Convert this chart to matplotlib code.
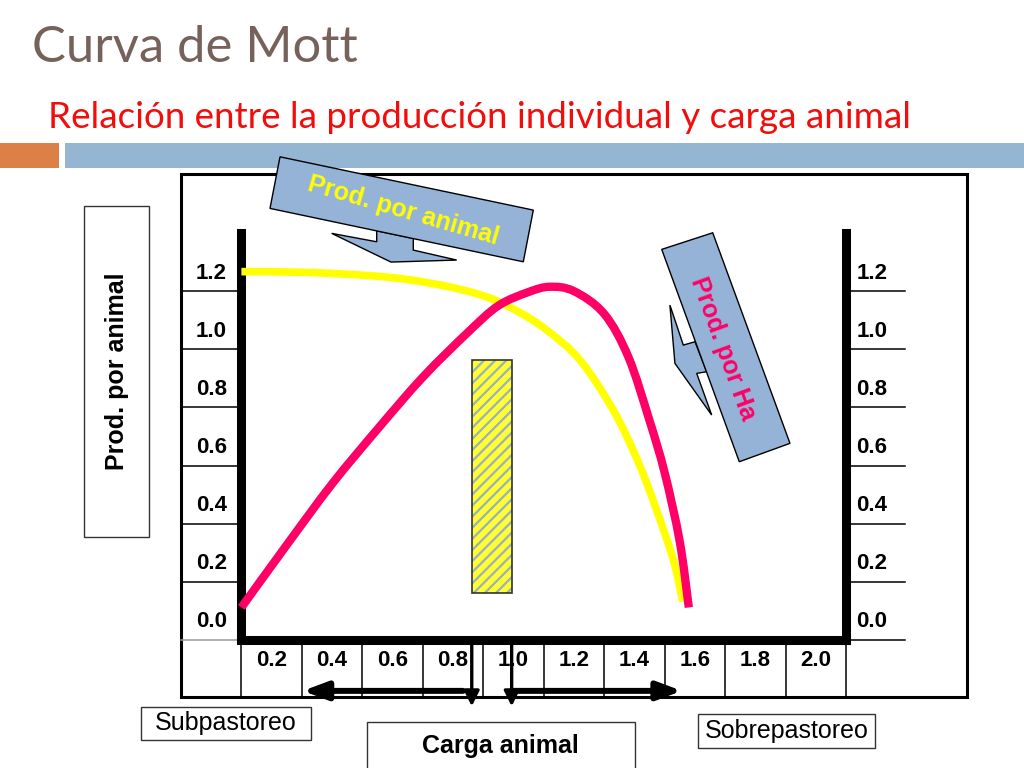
import matplotlib
matplotlib.use('Agg')
import matplotlib.pyplot as plt
from matplotlib.patches import Rectangle, Polygon, PathPatch
from matplotlib.path import Path

# ---------------- data ----------------
carga_animal_pa = [0.10, 0.30, 0.50, 0.65, 0.80, 0.92, 1.02, 1.11, 1.22, 1.33, 1.41, 1.47, 1.53, 1.56]
prod_por_animal = [1.205, 1.203, 1.193, 1.178, 1.150, 1.115, 1.065, 1.004, 0.901, 0.729, 0.557, 0.395, 0.21, 0.07]

carga_animal_ha = [0.10, 0.25, 0.40, 0.55, 0.70, 0.85, 0.95, 1.05, 1.12, 1.20, 1.30, 1.38, 1.45, 1.50, 1.55, 1.58]
prod_por_ha = [0.05, 0.265, 0.475, 0.663, 0.842, 0.997, 1.088, 1.135, 1.153, 1.138, 1.06, 0.912, 0.693, 0.514, 0.277, 0.05]

carga_optima = [0.862, 0.994]
prod_optima = [0.10, 0.90]

x_ticks = [0.2, 0.4, 0.6, 0.8, 1.0, 1.2, 1.4, 1.6, 1.8, 2.0]
x_labels = ['0.2', '0.4', '0.6', '0.8', '1.0', '1.2', '1.4', '1.6', '1.8', '2.0']
y_ticks = [0.0, 0.2, 0.4, 0.6, 0.8, 1.0, 1.2]
y_labels = ['0.0', '0.2', '0.4', '0.6', '0.8', '1.0', '1.2']

title = 'Curva de Mott'
subtitle = 'Relación entre la producción individual y carga animal'

# ---------------- figure ----------------
W, H = 1024, 768
plt.rcParams['hatch.linewidth'] = 1.6
fig = plt.figure(figsize=(W / 100, H / 100), dpi=100)
fig.patch.set_facecolor('white')


def fx(px):
    return px / W


def fy(py):
    return 1 - py / H


def smooth_path(xs, ys):
    """Smoothed line through the read points (Catmull-Rom drawn as Bezier)."""
    pts = list(zip(xs, ys))
    n = len(pts)
    verts = [pts[0]]
    codes = [Path.MOVETO]
    for i in range(n - 1):
        p0 = pts[i - 1] if i > 0 else pts[i]
        p1 = pts[i]
        p2 = pts[i + 1]
        p3 = pts[i + 2] if i + 2 < n else pts[i + 1]
        c1 = (p1[0] + (p2[0] - p0[0]) / 6, p1[1] + (p2[1] - p0[1]) / 6)
        c2 = (p2[0] - (p3[0] - p1[0]) / 6, p2[1] - (p3[1] - p1[1]) / 6)
        verts += [c1, c2, p2]
        codes += [Path.CURVE4] * 3
    return Path(verts, codes)


# header
fig.text(fx(32), fy(62), title, fontsize=36.5, color='#76625A', family='Lato',
         ha='left', va='baseline')
fig.text(fx(48), fy(128), subtitle, fontsize=26.5, color='#F20D0D', family='Lato',
         ha='left', va='baseline')
fig.patches.append(Rectangle((fx(0), fy(168)), fx(59), 25 / H, transform=fig.transFigure,
                             facecolor='#DD8047', edgecolor='none', zorder=-1))
fig.patches.append(Rectangle((fx(65), fy(168)), fx(1024 - 65), 25 / H, transform=fig.transFigure,
                             facecolor='#94B6D2', edgecolor='none', zorder=-1))

ax = fig.add_axes([fx(241.4), fy(640), fx(846) - fx(241.4), (640 - 233) / H])
ax.set_xlim(0.1, 2.1)
ax.set_ylim(-0.062, 1.338)
ax.set_xticks([])
ax.set_yticks([])
ax.patch.set_alpha(0)
ax.spines['top'].set_visible(False)
for s in ['left', 'right', 'bottom']:
    ax.spines[s].set_linewidth(6.5)
    ax.spines[s].set_color('black')

bold = dict(family='Liberation Sans', fontweight='bold')
reg = dict(family='Liberation Sans')

# outer box
ax.add_patch(Rectangle((-0.1, -0.258), 2.6, 1.799, fill=False, edgecolor='black',
                       lw=2.2, clip_on=False, zorder=1))

# table lines
for v in y_ticks:
    b = v - 0.062
    c = '#999999' if v == 0.0 else 'black'
    ax.plot([-0.1, 0.1], [b, b], color=c, lw=1.1, clip_on=False, zorder=1)
    ax.plot([2.1, 2.296], [b, b], color='black', lw=1.1, clip_on=False, zorder=1)
for k in range(11):
    xv = 0.1 + 0.2 * k
    ax.plot([xv, xv], [-0.062, -0.258], color='black', lw=1.1, clip_on=False, zorder=1)

# tick labels
for v, lab in zip(y_ticks, y_labels):
    ax.text(0.0, v, lab, ha='center', va='center', fontsize=16, clip_on=False, **bold)
    ax.text(2.135, v, lab, ha='left', va='center', fontsize=16, clip_on=False, **bold)
for v, lab in zip(x_ticks, x_labels):
    ax.text(v, -0.134, lab, ha='center', va='center', fontsize=16, clip_on=False, **bold)

# optimal range bar
xc = (carga_optima[0] + carga_optima[1]) / 2
wd = carga_optima[1] - carga_optima[0]
ax.bar([xc], [prod_optima[1] - prod_optima[0]], width=wd, bottom=prod_optima[0],
       color='#FFFF33', edgecolor='#9AAFC0', hatch='///', lw=0, zorder=2)
ax.bar([xc], [prod_optima[1] - prod_optima[0]], width=wd, bottom=prod_optima[0],
       fill=False, edgecolor='#333333', lw=1.2, zorder=2)

# curves (smoothed lines through the read points)
ax.add_patch(PathPatch(smooth_path(carga_animal_pa, prod_por_animal), fill=False,
                       edgecolor='#FFFF00', lw=5.5, capstyle='butt', joinstyle='round',
                       clip_on=False, zorder=4))
ax.add_patch(PathPatch(smooth_path(carga_animal_ha, prod_por_ha), fill=False,
                       edgecolor='#FF0066', lw=6.0, capstyle='butt', joinstyle='round',
                       clip_on=False, zorder=5))

# arrows under the axis
for xv in carga_optima:
    ax.annotate('', xy=(xv, -0.29), xytext=(xv, -0.062), annotation_clip=False,
                arrowprops=dict(arrowstyle='-|>,head_length=0.7,head_width=0.35', lw=2.4,
                                color='black', mutation_scale=13, shrinkA=0, shrinkB=0))
ax.annotate('', xy=(0.303, -0.237), xytext=(0.833, -0.237), annotation_clip=False,
            arrowprops=dict(arrowstyle='-|>,head_length=0.8,head_width=0.3', lw=4.3,
                            color='black', mutation_scale=18, shrinkA=0, shrinkB=0))
ax.annotate('', xy=(1.557, -0.237), xytext=(0.994, -0.237), annotation_clip=False,
            arrowprops=dict(arrowstyle='-|>,head_length=0.8,head_width=0.3', lw=4.3,
                            color='black', mutation_scale=18, shrinkA=0, shrinkB=0))

# label boxes
ax.add_patch(Rectangle((-0.421, 0.292), 0.215, 1.138, facecolor='white', edgecolor='#333333',
                       lw=1.0, clip_on=False))
ax.text(-0.313, 0.863, 'Prod. por animal', rotation=90, ha='center', va='center',
        fontsize=18, clip_on=False, **bold)

ax.add_patch(Rectangle((-0.232, -0.406), 0.562, 0.114, facecolor='white', edgecolor='#333333',
                       lw=1.0, clip_on=False))
ax.text(0.049, -0.349, 'Subpastoreo', ha='center', va='center', fontsize=18,
        clip_on=False, **reg)

ax.add_patch(Rectangle((0.5155, -0.53), 0.888, 0.186, facecolor='white', edgecolor='#333333',
                       lw=1.0, clip_on=False))
ax.text(0.956, -0.428, 'Carga animal', ha='center', va='center', fontsize=18,
        clip_on=False, **bold)

ax.add_patch(Rectangle((1.610, -0.433), 0.586, 0.117, facecolor='white', edgecolor='#333333',
                       lw=1.0, clip_on=False))
ax.text(1.903, -0.375, 'Sobrepastoreo', ha='center', va='center', fontsize=18,
        clip_on=False, **reg)

# callouts
blue = '#95B3D7'
arrow1 = [(0.5476, 1.3456), (0.5476, 1.3078), (0.3987, 1.3367), (0.5949, 1.238),
          (0.8122, 1.2449), (0.6686, 1.2792), (0.6686, 1.3195)]
rect1 = [(0.2277, 1.600), (1.0656, 1.4168), (1.0325, 1.239), (0.1946, 1.4226)]
ax.add_patch(Polygon(arrow1, closed=True, facecolor=blue, edgecolor='black', lw=1.0,
                     clip_on=False, zorder=10))
ax.add_patch(Polygon(rect1, closed=True, facecolor=blue, edgecolor='black', lw=1.0,
                     clip_on=False, zorder=10))
ax.text(0.635, 1.414, 'Prod. por animal', rotation=-16, ha='center', va='center',
        color='#FFFF00', fontsize=18, clip_on=False, zorder=11,
        rotation_mode='anchor', **bold)

arrow2 = [(1.6005, 0.9639), (1.5618, 0.9525), (1.5175, 1.0901), (1.5341, 0.8896),
          (1.6557, 0.7118), (1.6061, 0.8552), (1.6392, 0.8607)]
rect2 = [(1.4904, 1.2816), (1.6591, 1.3387), (1.9147, 0.6145), (1.7470, 0.5512)]
ax.add_patch(Polygon(arrow2, closed=True, facecolor=blue, edgecolor='black', lw=1.0,
                     clip_on=False, zorder=10))
ax.add_patch(Polygon(rect2, closed=True, facecolor=blue, edgecolor='black', lw=1.0,
                     clip_on=False, zorder=10))
ax.text(1.6931, 0.9422, 'Prod. por Ha', rotation=-70, ha='center', va='center',
        color='#FF0066', fontsize=18, clip_on=False, zorder=11,
        rotation_mode='anchor', **bold)

fig.savefig('out.png', dpi=100, facecolor='white')
